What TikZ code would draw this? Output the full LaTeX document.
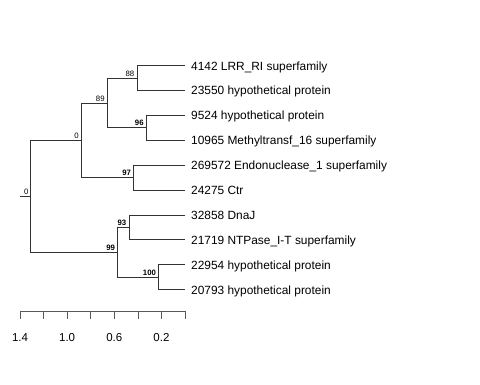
\documentclass[tikz,border=0pt]{standalone}
\usepackage{fontspec}
\setmainfont{Liberation Sans}
\usetikzlibrary{positioning}

\begin{document}
\begin{tikzpicture}[x=1pt, y=-1pt,
    branch/.style={draw=black!80, line width=0.7pt},
    leaf/.style={inner sep=0pt, font=\fontsize{11.9}{13}\selectfont},
    boot/.style={inner sep=0pt, font=\fontsize{7.8}{9}\selectfont},
    bootbf/.style={boot, font=\fontsize{7.8}{9}\selectfont\bfseries},
    scalelab/.style={inner sep=0pt, anchor=north, font=\fontsize{11.5}{13}\selectfont}]
    \useasboundingbox (0,0) rectangle (480,384);
    \coordinate (stub) at (20,196.2);
    \coordinate (root) at (30.7,196.2);
    \coordinate (A) at (81,140.2);
    \coordinate (B) at (107.3,102.85);
    \coordinate (C) at (137,77.95);
    \coordinate (D) at (146.3,127.75);
    \coordinate (E) at (133.7,177.55);
    \coordinate (F) at (117.7,252.25);
    \coordinate (G) at (129,227.35);
    \coordinate (H) at (158.7,277.15);
    \coordinate (t1) at (185,65.5);
    \coordinate (t2) at (185,90.4);
    \coordinate (t3) at (185,115.3);
    \coordinate (t4) at (185,140.2);
    \coordinate (t5) at (185,165.1);
    \coordinate (t6) at (185,190);
    \coordinate (t7) at (185,214.9);
    \coordinate (t8) at (185,239.8);
    \coordinate (t9) at (185,264.7);
    \coordinate (t10) at (185,289.6);
    \draw[branch] (stub) -- (root);
    \draw[branch] (root) |- (A);
    \draw[branch] (root) |- (F);
    \draw[branch] (A) |- (B);
    \draw[branch] (A) |- (E);
    \draw[branch] (B) |- (C);
    \draw[branch] (B) |- (D);
    \draw[branch] (C) |- (t1);
    \draw[branch] (C) |- (t2);
    \draw[branch] (D) |- (t3);
    \draw[branch] (D) |- (t4);
    \draw[branch] (E) |- (t5);
    \draw[branch] (E) |- (t6);
    \draw[branch] (F) |- (G);
    \draw[branch] (F) |- (H);
    \draw[branch] (G) |- (t7);
    \draw[branch] (G) |- (t8);
    \draw[branch] (H) |- (t9);
    \draw[branch] (H) |- (t10);
    \node[leaf, right=6pt of t1, anchor=base west, yshift=-4.5pt] (l1) {4142 LRR\_RI superfamily};
    \node[leaf, right=6pt of t2, anchor=base west, yshift=-4.5pt] (l2) {23550 hypothetical protein};
    \node[leaf, right=6pt of t3, anchor=base west, yshift=-4.5pt] (l3) {9524 hypothetical protein};
    \node[leaf, right=6pt of t4, anchor=base west, yshift=-4.5pt] (l4) {10965 Methyltransf\_16 superfamily};
    \node[leaf, right=6pt of t5, anchor=base west, yshift=-4.5pt] (l5) {269572 Endonuclease\_1 superfamily};
    \node[leaf, right=6pt of t6, anchor=base west, yshift=-4.5pt] (l6) {24275 Ctr};
    \node[leaf, right=6pt of t7, anchor=base west, yshift=-4.5pt] (l7) {32858 DnaJ};
    \node[leaf, right=6pt of t8, anchor=base west, yshift=-4.5pt] (l8) {21719 NTPase\_I-T superfamily};
    \node[leaf, right=6pt of t9, anchor=base west, yshift=-4.5pt] (l9) {22954 hypothetical protein};
    \node[leaf, right=6pt of t10, anchor=base west, yshift=-4.5pt] (l10) {20793 hypothetical protein};
    \node[boot, above left=1.5pt and 2pt of root] (broot) {0};
    \node[boot, above left=1.5pt and 2pt of A] (bA) {0};
    \node[boot, above left=1.5pt and 2.5pt of B] (bB) {89};
    \node[boot, above left=1.5pt and 2.5pt of C] (bC) {88};
    \node[bootbf, above left=1.5pt and 2.5pt of D] (bD) {96};
    \node[bootbf, above left=1.5pt and 2.5pt of E] (bE) {97};
    \node[bootbf, above left=1.5pt and 2.5pt of F] (bF) {99};
    \node[bootbf, above left=1.5pt and 2.5pt of G] (bG) {93};
    \node[bootbf, above left=1.5pt and 2.5pt of H] (bH) {100};
    \draw[branch, draw=black!65] (20,311) coordinate (s0) -- (185,311) coordinate (s7);
    \foreach \i in {0,...,7}
        \draw[branch, draw=black!65] (20+\i*23.571,311) -- ++(0,8);
    \foreach \v [count=\i from 0] in {1.4,1.0,0.6,0.2}
        \node[scalelab] (sl\i) at (20+\i*47.143,333) {\v};
\end{tikzpicture}
\end{document}
